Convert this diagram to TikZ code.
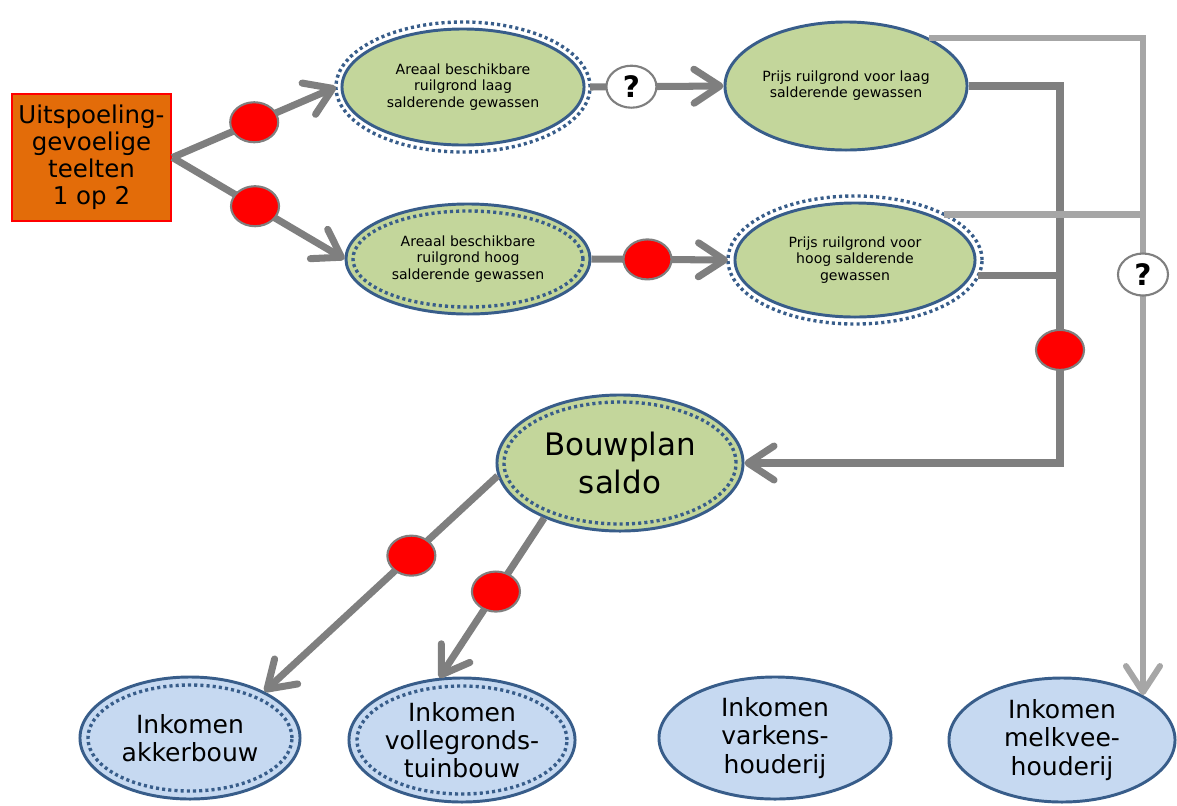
\documentclass[tikz,border=0pt]{standalone}
\usepackage{fontspec}
\setmainfont{DejaVu Sans}
\usetikzlibrary{arrows.meta,shapes.geometric}
\definecolor{arrowgray}{HTML}{7F7F7F}
\definecolor{palegray}{HTML}{A6A6A6}
\definecolor{boxorange}{HTML}{E36C09}
\definecolor{leafgreen}{HTML}{C3D69B}
\definecolor{paleblue}{HTML}{C6D9F1}
\definecolor{rimblue}{HTML}{385D8A}
\begin{document}
\begin{tikzpicture}[x=0.025cm, y=-0.025cm,
    barb/.style={-{Straight Barb[length=6.5mm,width=8.5mm,round]}},
    conn/.style={draw=arrowgray, line width=5pt},
    feed/.style={draw=palegray, line width=4.3pt},
    boxnode/.style={rectangle, draw=red, line width=2pt, fill=boxorange, inner sep=0pt,
        minimum width=3.975cm, minimum height=3.175cm, align=center,
        font=\fontsize{17.4}{19.2}\selectfont},
    greenoval/.style={ellipse, draw=rimblue, line width=2.1pt, fill=leafgreen, inner sep=0pt,
        align=center, font=\fontsize{10}{11.5}\selectfont},
    blueoval/.style={ellipse, draw=rimblue, line width=2.1pt, fill=paleblue, inner sep=0pt,
        align=center, font=\fontsize{17.8}{20}\selectfont},
    ring/.style={draw=rimblue, line width=2.4pt, dash pattern=on 2.2pt off 2.2pt},
    rdot/.style={ellipse, fill=red, draw=arrowgray, line width=1.5pt, inner sep=0pt,
        minimum width=1.2cm, minimum height=1cm},
    qdot/.style={ellipse, fill=white, draw=arrowgray, line width=1.5pt, inner sep=0pt,
        minimum width=1.25cm, minimum height=1.05cm, font=\fontsize{21}{21}\selectfont\bfseries}]
    \useasboundingbox (0,0) rectangle (1177,805);
    %\draw[help lines] (0,0) grid[step=50] (1177,805);
    \node[boxnode] (teelt) at (91.5,157.5) {Uitspoeling-\\gevoelige\\teelten\\1 op 2};
    \node[greenoval, minimum width=6.05cm, minimum height=2.9cm, outer sep=0.15cm] (arlaag) at (463,87) {Areaal beschikbare\\ruilgrond laag\\salderende gewassen};
    \node[greenoval, minimum width=6.1cm, minimum height=2.75cm] (arhoog) at (468,259) {Areaal beschikbare\\ruilgrond hoog\\salderende gewassen};
    \node[greenoval, minimum width=6.05cm, minimum height=3.2cm] (prlaag) at (846,86) {Prijs ruilgrond voor laag\\salderende gewassen};
    \node[greenoval, minimum width=6cm, minimum height=2.85cm, outer sep=0.175cm] (prhoog) at (855,260) {Prijs ruilgrond voor\\hoog salderende\\gewassen};
    \node[greenoval, minimum width=6.15cm, minimum height=3.4cm, font=\fontsize{22}{26.5}\selectfont] (bouw) at (620,463) {Bouwplan\\saldo};
    \node[blueoval, minimum width=5.5cm, minimum height=3.05cm] (akker) at (190,738) {Inkomen\\akkerbouw};
    \node[blueoval, minimum width=5.65cm, minimum height=3.1cm] (volle) at (462,740) {Inkomen\\vollegronds-\\tuinbouw};
    \node[blueoval, minimum width=5.8cm, minimum height=3.05cm] (varken) at (775,738) {Inkomen\\varkens-\\houderij};
    \node[blueoval, minimum width=5.65cm, minimum height=3.1cm] (melk) at (1062,740) {Inkomen\\melkvee-\\houderij};
    % dotted rims
    \draw[ring] (arlaag.center) ellipse [x radius=3.175cm, y radius=1.625cm];
    \draw[ring] (arhoog.center) ellipse [x radius=2.875cm, y radius=1.2cm];
    \draw[ring] (prhoog.center) ellipse [x radius=3.175cm, y radius=1.6cm];
    \draw[ring] (bouw.center) ellipse [x radius=2.9cm, y radius=1.525cm];
    \draw[ring] (akker.center) ellipse [x radius=2.55cm, y radius=1.325cm];
    \draw[ring] (volle.center) ellipse [x radius=2.625cm, y radius=1.35cm];
    % connectors
    \draw[conn, barb] (teelt.east) -- node[rdot, pos=0.5] (r1) {} (arlaag.west);
    \draw[conn, barb] (teelt.east) -- node[rdot, pos=0.48] (r2) {} (arhoog.west);
    \draw[conn, barb] (arlaag.east) -- node[qdot, pos=0.31] (q1) {?} (prlaag.west);
    \draw[conn, barb] (arhoog.east) -- node[rdot, pos=0.41] (r3) {} (prhoog.west);
    \coordinate (knik) at (1060,463);
    \draw[conn, barb] (prlaag.east) -| node[rdot, pos=0.85] (r4) {} (knik) -- (bouw.east);
    \draw[conn] (prhoog.-7) -- (prhoog.-7 -| knik);
    \draw[conn, barb] (bouw.186) -- node[rdot, pos=0.37] (r5) {} (akker.32);
    \draw[conn, barb] (bouw.216) -- node[rdot, pos=0.46] (r6) {} (volle.110);
    \draw[feed, barb] (prlaag.30) -| node[qdot, pos=0.68] (q2) {?} (melk.29);
    \draw[feed] (prhoog.27) -- (prhoog.27 -| melk.29);
\end{tikzpicture}
\end{document}
